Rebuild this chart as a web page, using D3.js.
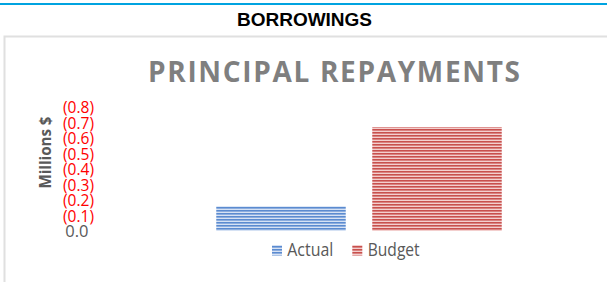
<!DOCTYPE html>
<html>
<head>
<meta charset="utf-8">
<script src="https://cdn.jsdelivr.net/npm/d3@7"></script>
<style>
  html, body { margin: 0; padding: 0; background: #fff; }
  svg { display: block; }
</style>
</head>
<body>
<svg id="chart" width="607" height="282"></svg>
<script>
// ---- data ----
const categories = ["Actual", "Budget"];
const values = [-0.16, -0.67];            // Millions $, negatives shown in parentheses
const tickValues = [0, -0.1, -0.2, -0.3, -0.4, -0.5, -0.6, -0.7, -0.8];
const header = "BORROWINGS";
const title = "PRINCIPAL REPAYMENTS";
const yTitle = "Millions $";

const colors = {
  Actual: { dark: "#5b8bd0", light: "#d6e2f4" },
  Budget: { dark: "#c8504d", light: "#f3cfce" }
};

const svg = d3.select("#chart");
const font = "'Open Sans', 'Liberation Sans', sans-serif";

// patterns
const defs = svg.append("defs");
categories.forEach(c => {
  const p = defs.append("pattern")
    .attr("id", "pat-" + c)
    .attr("patternUnits", "userSpaceOnUse")
    .attr("width", 6).attr("height", 3);
  p.append("rect").attr("width", 6).attr("height", 3).attr("fill", colors[c].light);
  p.append("rect").attr("width", 6).attr("height", 1.6).attr("fill", colors[c].dark);
});

// top blue rule
svg.append("rect").attr("x", 0).attr("y", 3).attr("width", 607).attr("height", 2).attr("fill", "#00a3e0");

// header
svg.append("text")
  .attr("x", 304.5).attr("y", 25.5)
  .attr("text-anchor", "middle")
  .attr("font-family", "'Liberation Sans', Arial, sans-serif")
  .attr("font-weight", "bold")
  .attr("font-size", 19)
  .attr("fill", "#000")
  .text(header);

// chart box
svg.append("rect")
  .attr("x", 4.5).attr("y", 36.5).attr("width", 700).attr("height", 400)
  .attr("fill", "none").attr("stroke", "#e0e0e0").attr("stroke-width", 2);

// title
svg.append("text")
  .attr("x", 148).attr("y", 81.7)
  .attr("font-family", font)
  .attr("font-weight", "bold")
  .attr("font-size", 28)
  .attr("fill", "#7f7f7f")
  .attr("textLength", 372)
  .attr("lengthAdjust", "spacing")
  .text(title);

// scales
const y = d3.scaleLinear().domain([0, -0.8]).range([231, 107]);
const x = d3.scaleBand().domain(categories).range([203, 515]).paddingInner(0.17).paddingOuter(0.085);

// bars
svg.append("g").selectAll("rect")
  .data(categories.map((c, i) => ({ c, v: values[i] })))
  .join("rect")
  .attr("x", d => x(d.c))
  .attr("width", x.bandwidth())
  .attr("y", d => y(d.v))
  .attr("height", d => y(0) - y(d.v))
  .attr("fill", d => `url(#pat-${d.c})`);

// y axis labels
const fmt = d => d < 0 ? `(${Math.abs(d).toFixed(1)})` : d.toFixed(1);
const axis = d3.axisLeft(y).tickValues(tickValues).tickFormat(fmt).tickSize(0).tickPadding(0);
const gy = svg.append("g").attr("transform", "translate(94,0)").call(axis);
gy.select(".domain").remove();
gy.selectAll("text")
  .attr("font-family", font)
  .attr("font-size", 16.5)
  .attr("dy", "0.36em")
  .attr("fill", d => d < 0 ? "#ff0000" : "#595959")
  .attr("x", d => d < 0 ? 0 : -5.5)
  .each(function(d) { if (d < 0) d3.select(this).attr("textLength", 31).attr("lengthAdjust", "spacingAndGlyphs"); });

// y title
svg.append("text")
  .attr("transform", "translate(50.5,152.5) rotate(-90)")
  .attr("text-anchor", "middle")
  .attr("font-family", font)
  .attr("font-weight", "bold")
  .attr("font-size", 16)
  .attr("fill", "#595959")
  .attr("textLength", 72)
  .attr("lengthAdjust", "spacingAndGlyphs")
  .text(yTitle);

// legend
const legendPos = [
  { c: "Actual", sx: 272, tx: 287.3, tw: 46 },
  { c: "Budget", sx: 352.3, tx: 367.7, tw: 52 }
];
const lg = svg.append("g");
legendPos.forEach(l => {
  lg.append("rect").attr("x", l.sx).attr("y", 245).attr("width", 10).attr("height", 10.5)
    .attr("fill", `url(#pat-${l.c})`);
  lg.append("text").attr("x", l.tx).attr("y", 255.7)
    .attr("font-family", font).attr("font-size", 17.5).attr("fill", "#595959")
    .attr("textLength", l.tw).attr("lengthAdjust", "spacingAndGlyphs")
    .text(l.c);
});
</script>
</body>
</html>
